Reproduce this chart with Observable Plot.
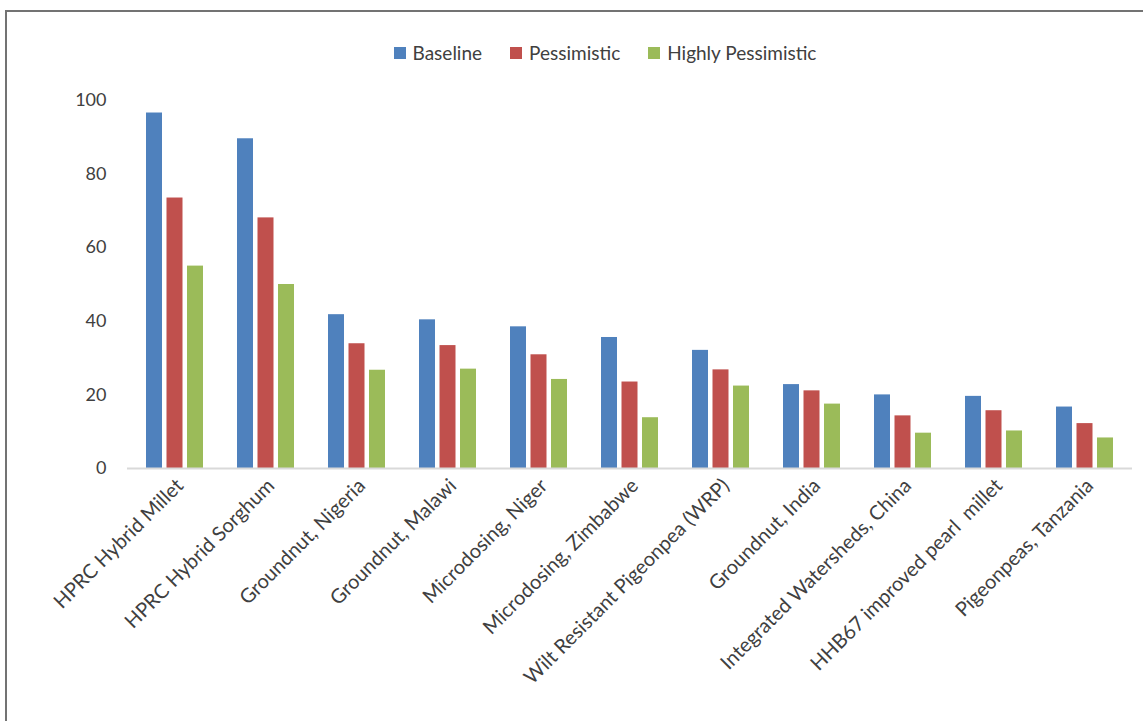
<!DOCTYPE html>
<html>
<head>
<meta charset="utf-8">
<script src="https://cdn.jsdelivr.net/npm/d3@7"></script>
<script src="https://cdn.jsdelivr.net/npm/@observablehq/plot@0.6"></script>
<style>
  html, body { margin: 0; padding: 0; background: #fff; }
  #wrap { position: relative; width: 1143px; height: 721px; overflow: hidden; font-family: Lato, "Open Sans", sans-serif; }
  #frame { position: absolute; left: 5px; top: 10px; width: 1300px; height: 900px; border-left: 2px solid #737373; border-top: 2px solid #737373; }
  #legend { position: absolute; top: 41px; left: 0; width: 1210px; display: flex; justify-content: center; gap: 28px; font-size: 19px; color: #404040; }
  #legend .item { display: flex; align-items: center; }
  #legend .sw { width: 12px; height: 12px; margin-right: 7px; }
  #chart { position: absolute; left: 0; top: 80px; }
  #chart svg text { white-space: pre; }
</style>
</head>
<body>
<div id="wrap">
  <div id="frame"></div>
  <div id="legend"></div>
  <div id="chart"></div>
</div>
<script>
const categories = [
  "HPRC Hybrid Millet",
  "HPRC Hybrid Sorghum",
  "Groundnut, Nigeria",
  "Groundnut, Malawi",
  "Microdosing, Niger",
  "Microdosing, Zimbabwe",
  "Wilt Resistant Pigeonpea (WRP)",
  "Groundnut, India",
  "Integrated Watersheds, China",
  "HHB67 improved pearl  millet",
  "Pigeonpeas, Tanzania"
];
const seriesNames = ["Baseline", "Pessimistic", "Highly Pessimistic"];
const seriesColors = ["#4F81BD", "#C0504D", "#9BBB59"];
const baseline    = [96.6, 89.6, 41.8, 40.4, 38.5, 35.6, 32.1, 22.8, 20.0, 19.6, 16.7];
const pessimistic = [73.5, 68.1, 33.9, 33.4, 30.9, 23.5, 26.8, 21.1, 14.3, 15.7, 12.2];
const highlyPess  = [55.0, 50.0, 26.7, 27.0, 24.2, 13.8, 22.4, 17.5, 9.6, 10.2, 8.3];
const yTicks = [0, 20, 40, 60, 80, 100];

const seriesValues = [baseline, pessimistic, highlyPess];
const data = [];
seriesNames.forEach((s, si) => categories.forEach((c, ci) => data.push({category: c, series: s, value: seriesValues[si][ci]})));

// legend
const legend = document.getElementById("legend");
seriesNames.forEach((s, i) => {
  const it = document.createElement("div");
  it.className = "item";
  const sw = document.createElement("span");
  sw.className = "sw";
  sw.style.background = seriesColors[i];
  it.appendChild(sw);
  it.appendChild(document.createTextNode(s));
  legend.appendChild(it);
});

// layout
const width = 1143, height = 641;
const marginLeft = 127, marginRight = 11, marginTop = 20, marginBottom = 253;
const plotW = width - marginLeft - marginRight;
const step = plotW / categories.length;
const groupW = 57.4;
const paddingInner = 1 - groupW / step;
const barStep = groupW / (3 - 0.2);
const barW = barStep * 0.8;

const marks = [];
seriesNames.forEach((s, i) => {
  const left = i * barStep;
  marks.push(Plot.barY(data.filter(d => d.series === s), {
    x: "category", y: "value", fill: "series",
    insetLeft: left, insetRight: groupW - left - barW
  }));
});
marks.push(Plot.ruleY([0], {stroke: "#d9d9d9", strokeWidth: 2}));
marks.push(Plot.axisY({ticks: yTicks, tickSize: 0, tickPadding: 21, fontSize: 18, color: "#404040"}));
marks.push(Plot.axisX({tickRotate: -45, tickSize: 0, tickPadding: 14, dx: 5, fontSize: 20, color: "#404040"}));

const chart = Plot.plot({
  width, height, marginLeft, marginRight, marginTop, marginBottom,
  style: {fontFamily: "Lato, 'Open Sans', sans-serif", background: "transparent", overflow: "visible"},
  x: {domain: categories, paddingInner, paddingOuter: paddingInner / 2, label: null},
  y: {domain: [0, 100], label: null},
  color: {domain: seriesNames, range: seriesColors},
  marks
});
document.getElementById("chart").appendChild(chart);
</script>
</body>
</html>
